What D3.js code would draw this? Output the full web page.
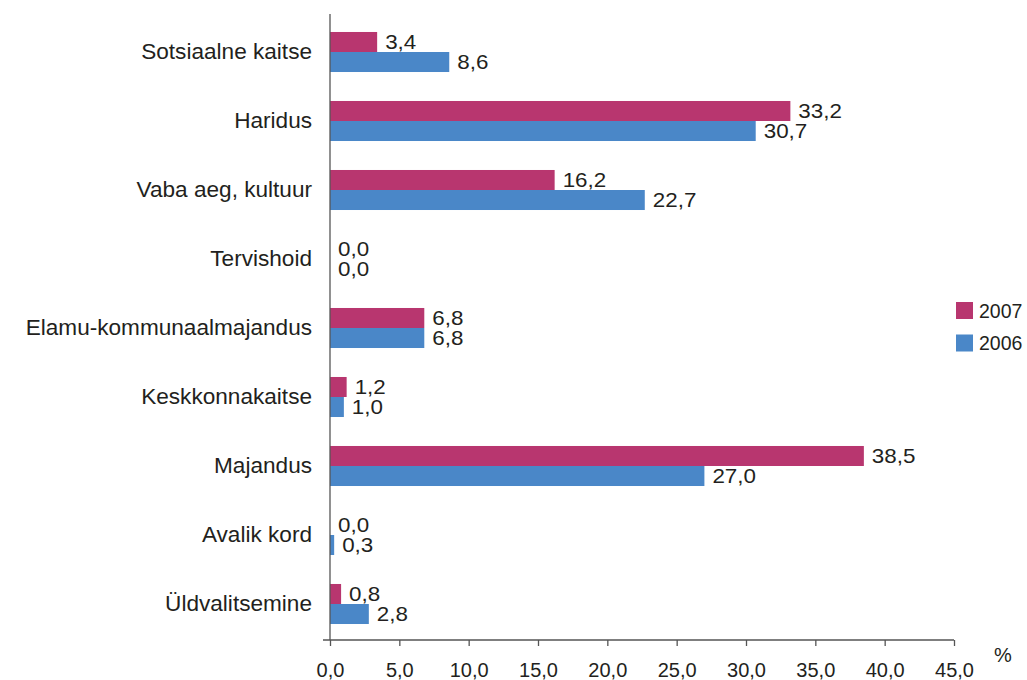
<!DOCTYPE html>
<html>
<head>
<meta charset="utf-8">
<script src="https://cdn.jsdelivr.net/npm/d3@7"></script>
<style>
  html, body { margin: 0; padding: 0; background: #fff; }
  svg text { font-family: "Liberation Sans", Arial, Helvetica, sans-serif; fill: #231f20; }
</style>
</head>
<body>
<svg id="chart" width="1027" height="680"></svg>
<script>
// Spending categories, top to bottom
const categories = [
  "Sotsiaalne kaitse",
  "Haridus",
  "Vaba aeg, kultuur",
  "Tervishoid",
  "Elamu-kommunaalmajandus",
  "Keskkonnakaitse",
  "Majandus",
  "Avalik kord",
  "Üldvalitsemine"
];
// Share of spending, %
const values2007 = [3.4, 33.2, 16.2, 0.0, 6.8, 1.2, 38.5, 0.0, 0.8];
const values2006 = [8.6, 30.7, 22.7, 0.0, 6.8, 1.0, 27.0, 0.3, 2.8];
const seriesNames = ["2007", "2006"];
const xTicks = [0, 5, 10, 15, 20, 25, 30, 35, 40, 45];

const colors = { "2007": "#b8366f", "2006": "#4a87c8" };

const svg = d3.select("#chart");
const x0 = 330, x1 = 954, yTop = 17.5, yBottom = 638.5, axisY = 640;

const x = d3.scaleLinear().domain([0, 45]).range([x0, x1]);
const y = d3.scaleBand().domain(categories).range([yTop, yBottom])
  .paddingInner(0.42).paddingOuter(0.21);
const ySub = d3.scaleBand().domain(seriesNames).range([0, y.bandwidth()]);

const fmt = v => d3.format(".1f")(v).replace(".", ",");

const rows = categories.map((c, i) => ({
  cat: c,
  items: [
    { series: "2007", value: values2007[i] },
    { series: "2006", value: values2006[i] }
  ]
}));

// Bars and value labels
const groups = svg.append("g").selectAll("g").data(rows).join("g")
  .attr("transform", d => `translate(0,${y(d.cat)})`);

groups.selectAll("rect").data(d => d.items).join("rect")
  .attr("x", x(0))
  .attr("y", d => ySub(d.series))
  .attr("width", d => x(d.value) - x(0))
  .attr("height", ySub.bandwidth())
  .attr("fill", d => colors[d.series]);

// Value labels: slightly wide lettering, compact height
groups.selectAll("text").data(d => d.items).join("text")
  .attr("transform", d =>
    `translate(${x(d.value) + 8},${ySub(d.series) + ySub.bandwidth() / 2}) scale(1.12,1)`)
  .attr("dy", "0.36em")
  .style("font-size", "20px")
  .text(d => fmt(d.value));

// Category labels
svg.append("g").selectAll("text").data(categories).join("text")
  .attr("x", 312)
  .attr("y", d => y(d) + y.bandwidth() / 2 - 1)
  .attr("dy", "0.36em")
  .attr("text-anchor", "end")
  .style("font-size", "22.6px")
  .text(d => d);

// Vertical axis line
svg.append("line")
  .attr("x1", x0).attr("x2", x0)
  .attr("y1", 14).attr("y2", axisY)
  .attr("stroke", "#555").attr("stroke-width", 1.3);

// Horizontal value axis
const xAxis = d3.axisBottom(x).tickValues(xTicks).tickSize(6).tickSizeOuter(0)
  .tickFormat(fmt);
const gx = svg.append("g").attr("transform", `translate(0,${axisY})`).call(xAxis);
gx.select(".domain").remove();
gx.append("line").attr("x1", 323).attr("x2", x1).attr("y1", 0).attr("y2", 0)
  .attr("stroke", "#555").attr("stroke-width", 1.3);
gx.selectAll(".tick line").attr("stroke", "#555").attr("stroke-width", 1.3);
gx.selectAll(".tick text")
  .attr("y", 0).attr("dy", 0)
  .attr("transform", "translate(0,37)")
  .style("font-size", "20px")
  .style("font-family", "'Liberation Sans', Arial, sans-serif")
  .attr("fill", "#231f20");

svg.append("text")
  .attr("x", 994).attr("y", 662)
  .style("font-size", "20px")
  .text("%");

// Legend
const legend = svg.append("g").selectAll("g").data(seriesNames).join("g")
  .attr("transform", (d, i) => `translate(956,${302 + i * 32.5})`);
legend.append("rect").attr("width", 17).attr("height", 17)
  .attr("fill", d => colors[d]);
legend.append("text").attr("x", 23).attr("y", 8.5).attr("dy", "0.36em")
  .style("font-size", "19.5px")
  .text(d => d);
</script>
</body>
</html>
